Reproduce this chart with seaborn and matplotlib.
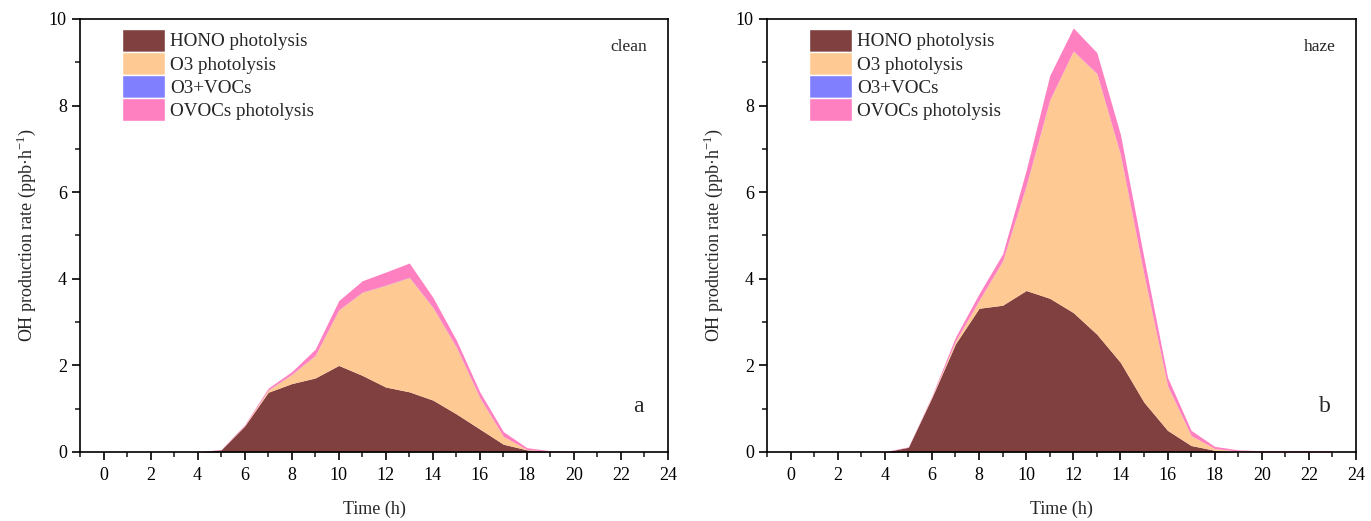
import numpy as np
import pandas as pd
import matplotlib
matplotlib.use("Agg")
import matplotlib.pyplot as plt
from matplotlib.patches import Patch
from matplotlib.ticker import MultipleLocator
import seaborn as sns

hours = list(range(24))
series_names = ["HONO photolysis", "O3 photolysis", "O3+VOCs", "OVOCs photolysis"]

clean_hono = [0, 0, 0, 0, 0.0, 0.05, 0.6, 1.38, 1.58, 1.71, 2.0, 1.77, 1.5, 1.39, 1.2, 0.88, 0.53, 0.18, 0.05, 0.01, 0, 0, 0, 0]
clean_o3 = [0, 0, 0, 0, 0, 0, 0.01, 0.05, 0.21, 0.52, 1.28, 1.92, 2.35, 2.64, 2.14, 1.54, 0.72, 0.18, 0.01, 0, 0, 0, 0, 0]
clean_o3voc = [0, 0, 0, 0, 0, 0, 0, 0.005, 0.005, 0.005, 0.005, 0.005, 0.005, 0.005, 0.005, 0.005, 0.005, 0, 0, 0, 0, 0, 0, 0]
clean_ovoc = [0, 0, 0, 0, 0.005, 0.01, 0.02, 0.04, 0.06, 0.14, 0.21, 0.26, 0.3, 0.33, 0.23, 0.16, 0.13, 0.11, 0.04, 0.02, 0.01, 0, 0, 0]

haze_hono = [0, 0, 0, 0, 0.0, 0.11, 1.26, 2.5, 3.32, 3.39, 3.73, 3.55, 3.22, 2.72, 2.07, 1.15, 0.5, 0.15, 0.04, 0.0, 0, 0, 0, 0]
haze_o3 = [0, 0, 0, 0, 0, 0, 0.02, 0.06, 0.18, 1.02, 2.42, 4.58, 6.04, 6.02, 4.8, 2.95, 1.03, 0.23, 0.04, 0.02, 0, 0, 0, 0]
haze_o3voc = [0, 0, 0, 0, 0, 0, 0, 0.005, 0.005, 0.005, 0.005, 0.005, 0.005, 0.005, 0.005, 0.005, 0.005, 0, 0, 0, 0, 0, 0, 0]
haze_ovoc = [0, 0, 0, 0, 0.01, 0.01, 0.02, 0.09, 0.15, 0.16, 0.35, 0.56, 0.53, 0.48, 0.46, 0.38, 0.19, 0.12, 0.05, 0.03, 0.03, 0.03, 0.03, 0.03]

colors = ["#804040", "#FFC993", "#8080FF", "#FF80C0"]

sns.set_theme(style="ticks")
plt.rcParams["font.family"] = ["Liberation Serif", "DejaVu Serif"]
plt.rcParams["mathtext.fontset"] = "custom"
plt.rcParams["mathtext.rm"] = "Liberation Serif"
plt.rcParams["axes.linewidth"] = 1.2
plt.rcParams["axes.edgecolor"] = "black"

fig = plt.figure(figsize=(13.71, 5.21), dpi=100)
ax1 = fig.add_axes([80 / 1371, 1 - 452 / 521, 588 / 1371, 433 / 521])
ax2 = fig.add_axes([767 / 1371, 1 - 452 / 521, 589 / 1371, 433 / 521])

panels = [
    (ax1, [clean_hono, clean_o3, clean_o3voc, clean_ovoc], "clean", "a"),
    (ax2, [haze_hono, haze_o3, haze_o3voc, haze_ovoc], "haze", "b"),
]

for ax, data, tag, letter in panels:
    df = pd.DataFrame({"hour": hours})
    for name, vals in zip(series_names, data):
        df[name] = vals
    base = np.zeros(len(hours))
    for name, c in zip(series_names, colors):
        top = base + df[name].values
        ax.fill_between(df["hour"], base, top, color=c, linewidth=0)
        base = top
    ax.set_xlim(-1, 24)
    ax.set_ylim(0, 10)
    ax.xaxis.set_major_locator(MultipleLocator(2))
    ax.xaxis.set_minor_locator(MultipleLocator(1))
    ax.yaxis.set_major_locator(MultipleLocator(2))
    ax.yaxis.set_minor_locator(MultipleLocator(1))
    ax.set_xticks([0, 2, 4, 6, 8, 10, 12, 14, 16, 18, 20, 22, 24])
    ax.tick_params(which="major", direction="out", length=6, width=1.2, labelsize=13, colors="black")
    ax.tick_params(which="minor", direction="out", length=3.5, width=1.2)
    ax.tick_params(axis="x", pad=5)
    for s in ax.spines.values():
        s.set_visible(True)
        s.set_color("black")
    ax.set_xlabel("Time (h)", fontsize=13, labelpad=12)
    ax.set_ylabel(r"OH production rate (ppb·h$^{\mathregular{-1}}$)", fontsize=13, labelpad=8)
    handles = [Patch(facecolor=c, edgecolor="white", linewidth=1) for c in colors]
    ax.legend(handles, series_names, loc="upper left", bbox_to_anchor=(0.071, 0.978),
              frameon=False, fontsize=13.7, handlelength=2.25, handleheight=1.5,
              labelspacing=0.0, handletextpad=0.3, borderaxespad=0.0, borderpad=0.0)
    ax.text(0.965, 0.935, tag, transform=ax.transAxes, fontsize=12.5, ha="right", va="center")
    ax.text(0.958, 0.105, letter, transform=ax.transAxes, fontsize=17, ha="right", va="center")

fig.savefig("out.png", dpi=100)
